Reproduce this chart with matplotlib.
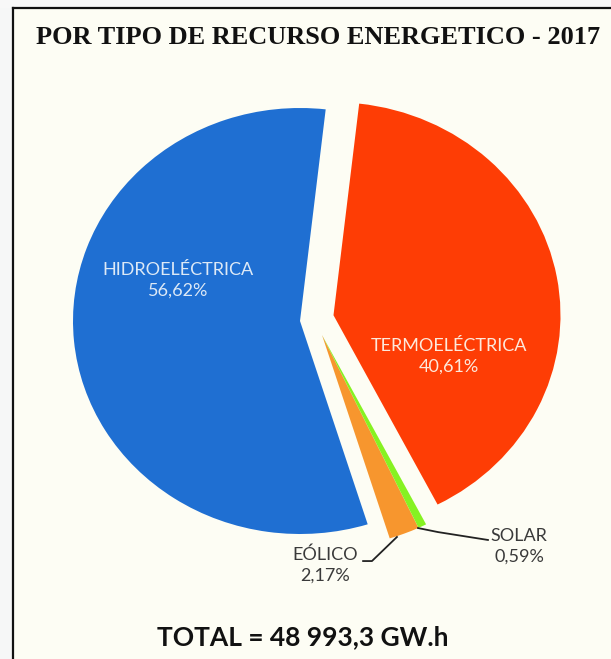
import numpy as np
import matplotlib
matplotlib.use("Agg")
import matplotlib.pyplot as plt
from matplotlib.lines import Line2D
from matplotlib.patches import Rectangle

# data
labels = ['HIDROELÉCTRICA', 'EÓLICO', 'SOLAR', 'TERMOELÉCTRICA']
values = [56.62, 2.17, 0.59, 40.61]
pct_text = ['56,62%', '2,17%', '0,59%', '40,61%']
colors = ['#1f6fd2', '#f7962e', '#86f222', '#fe3d05']
explode = [0, 0, 0, 0.15]
title = 'POR TIPO DE RECURSO ENERGETICO - 2017'
total_text = 'TOTAL = 48 993,3 GW.h'

W, H = 611, 659
fig = plt.figure(figsize=(W / 100, H / 100), dpi=100)
fig.patch.set_facecolor('#fdfdf4')

# outside the frame (left strip / top strip)
fig.patches.append(Rectangle((0, 0), 13 / W, 1, transform=fig.transFigure,
                             facecolor='#f6f7f7', edgecolor='none', zorder=0))
fig.patches.append(Rectangle((0, 1 - 8 / H), 1, 8 / H, transform=fig.transFigure,
                             facecolor='#f8f8f8', edgecolor='none', zorder=0))
fig.add_artist(Line2D([13 / W, 13 / W], [0, 1 - 8 / H], transform=fig.transFigure,
                      color='#111111', lw=1.6))
fig.add_artist(Line2D([13 / W, 1], [1 - 8 / H, 1 - 8 / H], transform=fig.transFigure,
                      color='#111111', lw=1.6))

# pie axes, pixel box x 50..590, y 80..600 ; center of pie at (300, 321)
cx, cy, rx, ry = 300, 321, 227, 213
x0, x1, y0, y1 = 50, 590, 80, 600
ax = fig.add_axes([x0 / W, 1 - y1 / H, (x1 - x0) / W, (y1 - y0) / H])
ax.set_facecolor('none')

wedges, _ = ax.pie(values, colors=colors, explode=explode, startangle=83.5,
                   counterclock=True, radius=1.0,
                   wedgeprops=dict(edgecolor='none', linewidth=0))

# the two small slices sit slightly apart from the main pie
for w in wedges[1:3]:
    w.set_center((0.097, -0.066))

ax.set_aspect('auto')
ax.set_xlim((x0 - cx) / rx, (x1 - cx) / rx)
ax.set_ylim((cy - y1) / ry, (cy - y0) / ry)
ax.axis('off')

lab_font = 'Lato'
ax.text(-0.537, 0.192, labels[0] + '\n' + pct_text[0], color='#dde9f6',
        ha='center', va='center', fontsize=13, family=lab_font, linespacing=1.35)
ax.text(0.656, -0.164, labels[3] + '\n' + pct_text[3], color='#fde9dc',
        ha='center', va='center', fontsize=13, family=lab_font, linespacing=1.35)
ax.text(0.110, -1.146, labels[1] + '\n' + pct_text[1], color='#3a3a3a',
        ha='center', va='center', fontsize=13, family=lab_font, linespacing=1.35)
ax.text(0.965, -1.056, labels[2] + '\n' + pct_text[2], color='#3a3a3a',
        ha='center', va='center', fontsize=13, family=lab_font, linespacing=1.35)

# leader lines
ax.plot([0.278, 0.317, 0.427], [-1.127, -1.127, -1.014], color='#222222', lw=1.3)
ax.plot([0.520, 0.608, 0.828], [-0.972, -0.991, -1.028], color='#222222', lw=1.3)

fig.text(318 / W, 1 - 38 / H, title, ha='center', va='center', fontsize=19,
         family='Liberation Serif', weight='bold', color='#111111')
fig.text(303 / W, 1 - 637 / H, total_text, ha='center', va='center', fontsize=19,
         family='Lato', weight='bold', color='#111111')

fig.savefig('out.png', dpi=100, facecolor=fig.get_facecolor())
